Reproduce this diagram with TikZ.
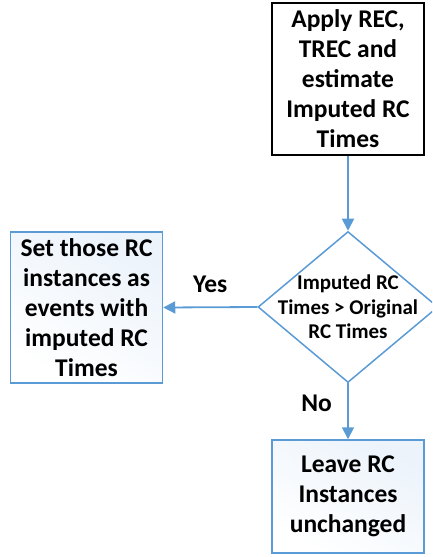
\documentclass[tikz,border=0pt]{standalone}
\usepackage{fontspec}
\setmainfont{Carlito}
\usetikzlibrary{shapes.geometric,arrows.meta}
\definecolor{flowblue}{RGB}{91,155,213}
\definecolor{boxtint}{RGB}{236,243,251}
\tikzset{
  every node/.style={font=\bfseries},
  boxfont/.style={font=\fontsize{25.5}{30}\selectfont\bfseries},
  procbox/.style={draw=flowblue, line width=1.5pt, top color=boxtint, bottom color=white,
    shading angle=-30, align=center, inner sep=0pt, minimum width=152pt, boxfont},
  startbox/.style={draw=black, line width=1.5pt, fill=white, align=center, inner sep=0pt,
    minimum width=152pt, minimum height=152pt, boxfont},
  decision/.style={draw=flowblue, line width=1.5pt, fill=white, diamond, aspect=1.2,
    inner sep=0pt, minimum width=180pt, minimum height=151pt},
  decisiontext/.style={align=center, inner sep=0pt, font=\fontsize{21}{24.5}\selectfont\bfseries},
  flow/.style={draw=flowblue, line width=1.8pt, -{Triangle[length=12pt,width=12pt]}},
  lbl/.style={boxfont}
}
\begin{document}
\begin{tikzpicture}[x=1pt,y=1pt]
  \useasboundingbox (0,0) rectangle (432,-557);
  \clip (0,0) rectangle (432,-557);
  \node[startbox] (apply) at (348,-79)
    {Apply REC,\\TREC and\\estimate\\Imputed RC\\Times};
  \node[decision] (check) at (348,-307) {};
  \node[decisiontext] (checktext) at (check.center)
    {Imputed RC\\Times > Original\\RC Times};
  \node[procbox, minimum height=151pt] (setev) at (86.5,-307.5)
    {Set those RC\\instances as\\events with\\imputed RC\\Times};
  \node[procbox, minimum height=113pt] (leave) at (348,-496.5)
    {Leave RC\\Instances\\unchanged};
  \draw[flow] (apply) -- (check);
  \draw[flow] (check.west) -- (setev.east) node[lbl, midway, above=10pt] {Yes};
  \draw[flow] (check.south) -- (leave.north) node[lbl, pos=0.36, left=12pt] {No};
\end{tikzpicture}
\end{document}
